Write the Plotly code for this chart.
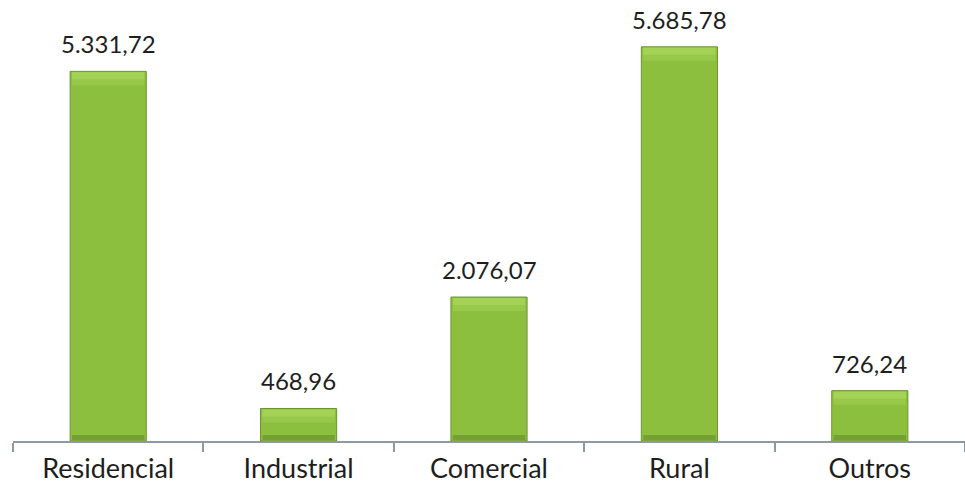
import plotly.graph_objects as go

categories = ["Residencial", "Industrial", "Comercial", "Rural", "Outros"]
values = [5331.72, 468.96, 2076.07, 5685.78, 726.24]
value_labels = ["5.331,72", "468,96", "2.076,07", "5.685,78", "726,24"]

BAR_COLOR = "#8DBF3E"
BAR_EDGE = "#6C9530"
HILITE = "#A4D256"
HILITE2 = "#98C84A"
SHADE = "#76A033"
FONT = "Lato"

fig = go.Figure()
fig.add_trace(go.Bar(
    x=categories, y=values, width=0.40,
    marker=dict(color=BAR_COLOR, line=dict(color=BAR_EDGE, width=1)),
    hoverinfo="skip",
))

shapes = []
for i, v in enumerate(values):
    # top highlight bands (bevel)
    shapes.append(dict(type="rect", xref="x", yref="y", x0=i - 0.19, x1=i + 0.19,
                       ysizemode="pixel", yanchor=v, y0=-14, y1=-1,
                       fillcolor=HILITE2, line=dict(width=0), layer="above"))
    shapes.append(dict(type="rect", xref="x", yref="y", x0=i - 0.19, x1=i + 0.19,
                       ysizemode="pixel", yanchor=v, y0=-8, y1=-1,
                       fillcolor=HILITE, line=dict(width=0), layer="above"))
    # bottom shade band
    shapes.append(dict(type="rect", xref="x", yref="y", x0=i - 0.19, x1=i + 0.19,
                       ysizemode="pixel", yanchor=0, y0=1, y1=6,
                       fillcolor=SHADE, line=dict(width=0), layer="above"))

annotations = [dict(x=c, y=v, text=t, showarrow=False, yanchor="bottom", yshift=11,
                    font=dict(family=FONT, size=24, color="#1E1E1E"))
               for c, v, t in zip(categories, values, value_labels)]

fig.update_layout(
    width=965, height=490,
    margin=dict(l=13, r=0, t=25, b=49),
    paper_bgcolor="white", plot_bgcolor="white",
    showlegend=False, bargap=0.6,
    shapes=shapes, annotations=annotations,
    xaxis=dict(type="category", showline=True, linecolor="#8E9AA2", linewidth=2,
               ticks="outside", tickson="boundaries", ticklen=9, tickcolor="#8E9AA2",
               tickwidth=2, showgrid=False, zeroline=False,
               tickfont=dict(family=FONT, size=27, color="#1E1E1E"),
               ticklabelstandoff=3),
    yaxis=dict(range=[0, 6000], visible=False, showgrid=False, zeroline=False),
)

fig.write_html("out.html")
